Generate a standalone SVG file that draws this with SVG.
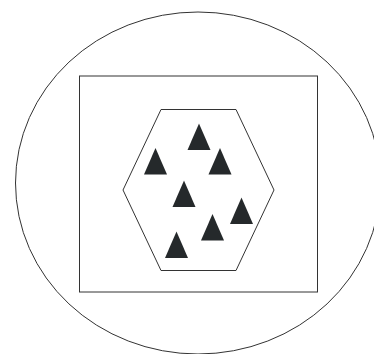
<svg xmlns="http://www.w3.org/2000/svg" xmlns:xlink="http://www.w3.org/1999/xlink" width="374" height="354" viewBox="0 0 374 354">
<style>
.ln{fill:none;stroke:#333;stroke-width:1}
.tri{fill:#25292b}
</style>
<defs>
<path id="t" class="tri" d="M0,0 L11.5,26.5 L-11.5,26.5 Z"/>
</defs>
<rect width="374" height="354" fill="#fff"/>
<g id="outer"><ellipse class="ln" cx="198" cy="183" rx="182.5" ry="171"/></g>
<g id="box"><rect class="ln" x="79.5" y="76" width="238" height="216"/></g>
<g id="hex"><polygon class="ln" points="161,109.5 236,109.5 274,190 236,270.5 161,270.5 123,190"/></g>
<g id="triangles">
<use xlink:href="#t" x="199" y="123.5"/>
<use xlink:href="#t" x="155.5" y="148"/>
<use xlink:href="#t" x="220" y="148"/>
<use xlink:href="#t" x="184" y="180.5"/>
<use xlink:href="#t" x="241.5" y="197.5"/>
<use xlink:href="#t" x="212.5" y="214"/>
<use xlink:href="#t" x="176.5" y="231.5"/>
</g>
</svg>
